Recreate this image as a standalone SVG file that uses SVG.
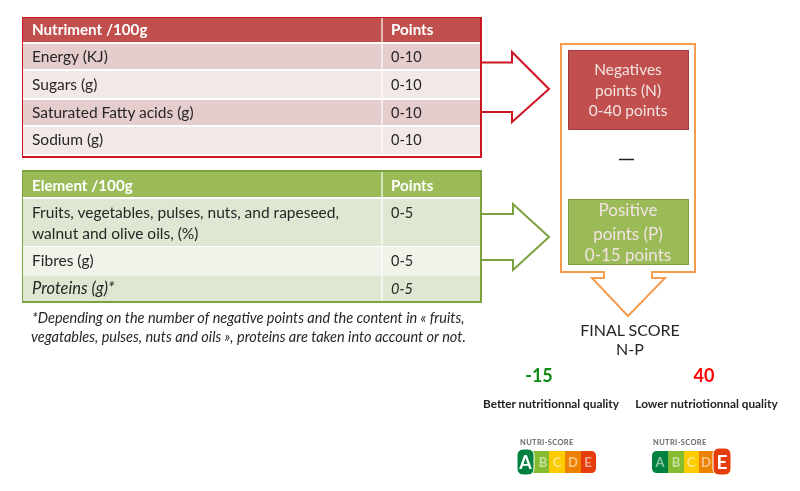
<svg xmlns="http://www.w3.org/2000/svg" width="800" height="491" viewBox="0 0 800 491">
<style>
text{font-family:Lato,"Liberation Sans",sans-serif;fill:#262626;font-size:14.5px}
.t{font-size:15.500px}
.h{font-weight:700;fill:#fff;font-size:15.200px}
.i{font-style:italic}
.f{font-style:italic;font-size:14.500px}
.w{fill:#f3e3e2;text-anchor:middle;font-size:15.5px}
.q{font-weight:700;font-size:11.800px;fill:#222;text-anchor:middle}
.n{font-weight:700;font-size:7.500px;fill:#666;letter-spacing:.35px}
.l{font-weight:700;font-size:13px;text-anchor:middle;fill-opacity:.55;fill:#fff}
.b{font-weight:700;font-size:20px;text-anchor:middle;fill:#fff}
</style>
<defs><filter id="s" x="0" y="0" width="100%" height="100%"><feGaussianBlur stdDeviation="0.45"/></filter></defs>
<rect width="800" height="491" fill="#fff"/>
<g filter="url(#s)">
<g id="connectors" fill="none" stroke-width="2">
<path d="M481 62.500H512V52L549 89L512 122V112H481" stroke="#cc1424"/>
<path d="M481 214H513V204L549 237L513 270V260H481" stroke="#7ba23f"/>
<path d="M561 44H695V272H652V278H665L628 316L592 278H604V272H561Z" stroke="#f79b4f"/>
</g>
<g id="table-negative">
<rect x="23" y="18" width="457" height="24" fill="#c0504d"/>
<rect x="23" y="44" width="457" height="25" fill="#e6cdcd"/>
<rect x="23" y="71" width="457" height="27" fill="#f3e8e8"/>
<rect x="23" y="100" width="457" height="25" fill="#e6cdcd"/>
<rect x="23" y="127" width="457" height="27" fill="#f3e8e8"/>
<path d="M382 18V154" stroke="#fff" stroke-width="1.500" opacity=".8"/>
<rect x="22" y="17" width="459" height="140" fill="none" stroke="#cc1424" stroke-width="2"/>
<text class="h" x="32" y="35">Nutriment /100g</text><text class="h" x="391" y="35">Points</text>
<text class="t" x="32" y="62">Energy (KJ)</text><text x="391" y="62">0-10</text>
<text class="t" x="32" y="90">Sugars (g)</text><text x="391" y="90">0-10</text>
<text class="t" x="32" y="118">Saturated Fatty acids (g)</text><text x="391" y="118">0-10</text>
<text class="t" x="32" y="145">Sodium (g)</text><text x="391" y="145">0-10</text>
</g>
<g id="table-positive">
<rect x="23" y="172" width="457" height="25" fill="#9bbb59"/>
<rect x="23" y="199" width="457" height="47" fill="#dee7d1"/>
<rect x="23" y="247" width="457" height="29" fill="#eff3ea"/>
<rect x="23" y="276" width="457" height="25" fill="#dee7d1"/>
<path d="M382 172V301" stroke="#fff" stroke-width="1.500" opacity=".8"/>
<rect x="22" y="171" width="459" height="131" fill="none" stroke="#7ba23f" stroke-width="2"/>
<text class="h" x="32" y="191">Element /100g</text><text class="h" x="391" y="191">Points</text>
<text class="t" x="32" y="218">Fruits, vegetables, pulses, nuts, and rapeseed,</text><text x="391" y="218">0-5</text>
<text class="t" x="32" y="239">walnut and olive oils,  (%)</text>
<text class="t" x="32" y="266">Fibres (g)</text><text x="391" y="266">0-5</text>
<text class="i" x="32" y="294" style="font-size:16.500px">Proteins (g)*</text><text class="i" x="391" y="294">0-5</text>
</g>
<g id="footnote">
<text class="f" x="32" y="323">*Depending on the number of negative points and the content in « fruits,</text>
<text class="f" x="31" y="342">vegatables, pulses, nuts and oils », proteins are taken into account or not.</text>
</g>
<g id="node-negatives">
<rect x="568.500" y="50.500" width="120" height="79" fill="#c0504d" stroke="#9c3d3a"/>
<text class="w" x="628" y="75">Negatives</text><text class="w" x="628" y="96">points (N)</text><text class="w" x="628" y="116">0-40 points</text>
</g>
<g id="node-minus"><path d="M619 159.500H634" stroke="#222" stroke-width="1.500"/></g>
<g id="node-positives">
<rect x="568.500" y="199.500" width="120" height="65" fill="#9bbb59" stroke="#7f9c44"/>
<text class="w" x="628" y="216" style="font-size:17px">Positive</text><text class="w" x="628" y="240" style="font-size:17px">points (P)</text><text class="w" x="628" y="261" style="font-size:17px">0-15 points</text>
</g>
<g id="node-final">
<text x="630" y="336" text-anchor="middle" style="font-size:16px">FINAL SCORE</text>
<text x="630" y="355" text-anchor="middle" style="font-size:16px">N-P</text>
</g>
<g id="node-better">
<text x="539" y="382" text-anchor="middle" style="font-size:18px;font-weight:700;fill:#0c8a16">-15</text>
<text class="q" x="551" y="408">Better nutritionnal  quality</text>
</g>
<g id="node-lower">
<text x="704" y="382" text-anchor="middle" style="font-size:18px;font-weight:700;fill:#f00">40</text>
<text class="q" x="706.500" y="408">Lower nutriotionnal  quality</text>
</g>
<g id="logo-a">
<text class="n" x="520" y="445">NUTRI-SCORE</text>
<path d="M530 451H549V473H530Z" fill="#85bb2f"/>
<rect x="549" y="451" width="16" height="22" fill="#fecb02"/>
<rect x="565" y="451" width="16" height="22" fill="#ee8100"/>
<path d="M581 451H591Q596 451 596 456V468Q596 473 591 473H581Z" fill="#e63e11"/>
<rect x="517" y="449" width="17" height="26" rx="6" fill="#038141" stroke="#fff"/>
<text class="b" x="525.500" y="469" style="font-size:18px">A</text>
<text class="l" x="543" y="467">B</text><text class="l" x="557" y="467">C</text><text class="l" x="573" y="467">D</text><text class="l" x="588" y="467">E</text>
</g>
<g id="logo-e">
<text class="n" x="653" y="445">NUTRI-SCORE</text>
<path d="M657 451H668V473H657Q652 473 652 468V456Q652 451 657 451Z" fill="#038141"/>
<rect x="668" y="451" width="16" height="22" fill="#85bb2f"/>
<rect x="684" y="451" width="15" height="22" fill="#fecb02"/>
<rect x="699" y="451" width="16" height="22" fill="#ee8100"/>
<rect x="713" y="448" width="18" height="27" rx="6" fill="#e63e11" stroke="#fff"/>
<text class="b" x="722" y="469" style="font-size:19px">E</text>
<text class="l" x="660" y="467">A</text><text class="l" x="676" y="467">B</text><text class="l" x="691" y="467">C</text><text class="l" x="706" y="467">D</text>
</g>
</g>
</svg>
